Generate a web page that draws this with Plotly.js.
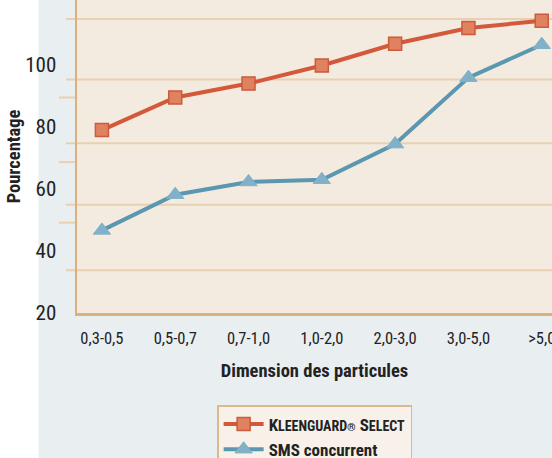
<!DOCTYPE html>
<html><head><meta charset="utf-8">
<script src="https://cdn.plot.ly/plotly-3.0.1.min.js"></script>
<style>html,body{margin:0;padding:0;background:#fff}#chart{width:552px;height:458px}</style>
</head><body><div id="chart"></div>
<script>
const categories = ['0,3-0,5','0,5-0,7','0,7-1,0','1,0-2,0','2,0-3,0','3,0-5,0','>5,0'];
const kleenguard = [78.9, 89.4, 93.9, 99.7, 106.7, 111.8, 114.1];
const sms = [46.6, 58.1, 62.2, 62.9, 74.4, 95.8, 106.4];
const yTickVals = [20, 40, 60, 80, 100];
const gridVals = [33.8, 54.9, 74.7, 95.2, 114.7];
const minorTickVals = [49.1, 68.6, 89.4];

const F = '"Roboto Condensed", "Liberation Sans Narrow", "Arial Narrow", "DejaVu Sans Condensed", sans-serif';
const yr = [20, 120.8];
const GRID = '#e8d0b0';

const traces = [
  {x: categories, y: kleenguard, type: 'scatter', mode: 'lines+markers',
   name: 'K<span style="font-size:14px">LEENGUARD</span><span style="font-size:11px">®</span> S<span style="font-size:14px">ELECT</span>',
   line: {color: '#d4583a', width: 4},
   marker: {symbol: 'square', size: 13, color: '#e0825f', line: {color: '#cc5a3c', width: 1.5}}},
  {x: categories, y: sms, type: 'scatter', mode: 'lines+markers', name: 'SMS concurrent',
   line: {color: '#5b97b0', width: 4},
   marker: {symbol: 'triangle-up', size: 15, color: '#80b1c8', line: {color: '#80b1c8', width: 1}}}
];

const shapes = [
  {type: 'rect', xref: 'paper', yref: 'paper', x0: -0.163, x1: -0.081, y0: -0.47, y1: 1,
   fillcolor: '#ffffff', line: {width: 0}, layer: 'below'}
];
gridVals.forEach(v => shapes.push({type: 'line', xref: 'paper', yref: 'y', x0: -0.023, x1: 1, y0: v, y1: v,
  line: {color: GRID, width: 2}, layer: 'below'}));
minorTickVals.forEach(v => shapes.push({type: 'line', xref: 'paper', yref: 'y', x0: -0.038, x1: 0, y0: v, y1: v,
  line: {color: GRID, width: 2}, layer: 'below'}));

const layout = {
  width: 552, height: 458,
  margin: {l: 77, r: 0, t: 0, b: 145, autoexpand: false},
  paper_bgcolor: '#e9eef1',
  plot_bgcolor: '#f3ebdf',
  font: {family: F, color: '#222', size: 16},
  showlegend: true,
  legend: {x: 0.295, y: -0.294, xanchor: 'left', yanchor: 'top',
    bgcolor: '#f7f1e9', bordercolor: '#dcb98c', borderwidth: 1.5,
    font: {family: F, size: 17, color: '#222', weight: 'bold'}, itemwidth: 40, tracegroupgap: 0},
  xaxis: {type: 'category', range: [-0.34, 6.14], showgrid: false, zeroline: false, automargin: false,
    showline: true, linecolor: '#d9b080', linewidth: 3, ticks: '', ticklabelstandoff: 8,
    tickfont: {family: F, size: 16.5, color: '#222'},
    title: {text: 'Dimension des particules', font: {family: F, size: 18.5, color: '#222', weight: 'bold'}, standoff: 18}},
  yaxis: {range: yr, tickvals: yTickVals, ticks: '', showgrid: false, zeroline: false, automargin: false,
    showline: true, linecolor: '#d9b080', linewidth: 2.5, ticklabelstandoff: 14,
    tickfont: {family: F, size: 21, color: '#222'},
    title: {text: 'Pourcentage', font: {family: F, size: 18.5, color: '#222', weight: 'bold'}, standoff: 0}},
  shapes: shapes
};

Plotly.newPlot('chart', traces, layout, {displayModeBar: false, staticPlot: true});
</script></body></html>
